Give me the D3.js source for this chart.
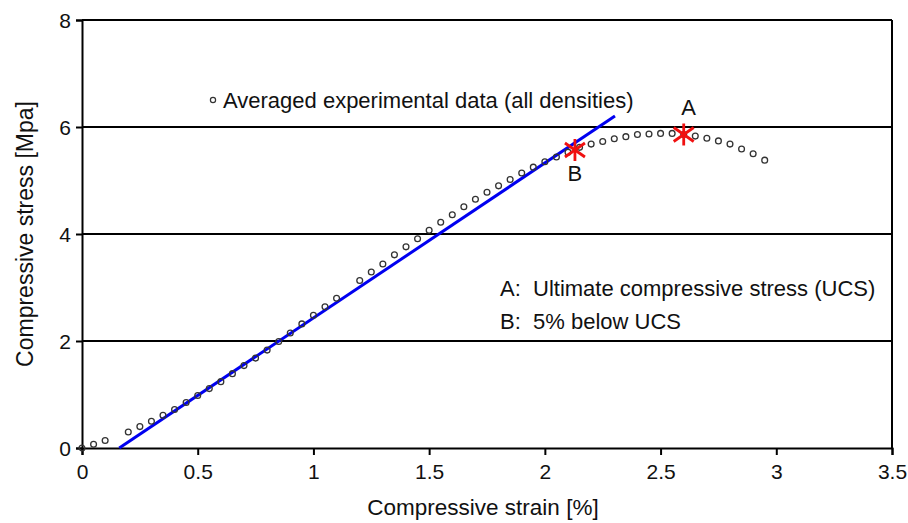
<!DOCTYPE html>
<html>
<head>
<meta charset="utf-8">
<script src="https://cdn.jsdelivr.net/npm/d3@7"></script>
<style>
  html, body { margin: 0; padding: 0; background: #fff; }
  text { font-family: "Liberation Sans", Arial, Helvetica, sans-serif; fill: #111; white-space: pre; }
</style>
</head>
<body>
<svg id="chart" width="908" height="523"></svg>
<script>
// ---- data ----
const strain = [0,0.05,0.1,0.2,0.25,0.3,0.35,0.4,0.45,0.5,0.55,0.6,0.65,0.7,0.75,0.8,0.85,0.9,0.95,1.0,1.05,1.1,
  1.2,1.25,1.3,1.35,1.4,1.45,1.5,1.55,1.6,1.65,1.7,1.75,1.8,1.85,1.9,1.95,2.0,2.05,2.1,2.15,2.2,2.25,2.3,2.35,2.4,2.45,2.5,2.55,2.6,2.65,2.7,2.75,2.8,2.85,2.9,2.95];
const stress = [0,0.07,0.14,0.30,0.40,0.50,0.61,0.72,0.85,0.98,1.11,1.24,1.39,1.54,1.68,1.83,1.99,2.15,2.32,2.48,2.64,2.80,
  3.13,3.29,3.44,3.61,3.76,3.91,4.07,4.22,4.36,4.51,4.65,4.78,4.90,5.02,5.14,5.25,5.35,5.44,5.53,5.62,5.68,5.73,5.78,5.82,5.86,5.87,5.88,5.88,5.86,5.83,5.79,5.74,5.68,5.59,5.50,5.38];
const fitStrain = [0.161, 2.303];
const fitStress = [0, 6.205];
const markerLabels = ["A", "B"];
const markerStrain = [2.60, 2.13];
const markerStress = [5.86, 5.57];
const xTicks = [0, 0.5, 1, 1.5, 2, 2.5, 3, 3.5];
const yTicks = [0, 2, 4, 6, 8];
const gridValues = [2, 4, 6, 8];
const legendText = "Averaged experimental data (all densities)";
const noteLines = ["A:  Ultimate compressive stress (UCS)", "B:  5% below UCS"];
const xTitle = "Compressive strain [%]";
const yTitle = "Compressive stress [Mpa]";

// ---- layout ----
const svg = d3.select("#chart");
const m = {left: 82, top: 20, right: 16, bottom: 75};
const W = 908 - m.left - m.right;
const H = 523 - m.top - m.bottom;
const x = d3.scaleLinear().domain([0, 3.5]).range([0, W]);
const y = d3.scaleLinear().domain([0, 8]).range([H, 0]);
const g = svg.append("g").attr("transform", `translate(${m.left},${m.top})`);

// gridlines
g.selectAll("line.grid").data(gridValues).join("line")
  .attr("x1", 0).attr("x2", W)
  .attr("y1", d => y(d)).attr("y2", d => y(d))
  .attr("stroke", "#000").attr("stroke-width", 2);
// right border
g.append("line").attr("x1", W).attr("x2", W).attr("y1", 0).attr("y2", H)
  .attr("stroke", "#000").attr("stroke-width", 2);

// axes
const xAxis = g.append("g").attr("transform", `translate(0,${H})`)
  .call(d3.axisBottom(x).tickValues(xTicks).tickSize(7).tickPadding(9).tickFormat(d3.format("")));
const yAxis = g.append("g")
  .call(d3.axisLeft(y).tickValues(yTicks).tickSize(6).tickPadding(5).tickFormat(d3.format("")));
[xAxis, yAxis].forEach(a => {
  a.select(".domain").attr("stroke", "#000").attr("stroke-width", 2);
  a.selectAll(".tick line").attr("stroke", "#000").attr("stroke-width", 2);
  a.selectAll(".tick text").style("font-size", "21px").attr("fill", "#111")
    .style("font-family", '"Liberation Sans", Arial, sans-serif');
});
yAxis.selectAll(".tick text").attr("dy", "0.36em");

// fit line
g.append("line")
  .attr("x1", x(fitStrain[0])).attr("y1", y(fitStress[0]))
  .attr("x2", x(fitStrain[1])).attr("y2", y(fitStress[1]))
  .attr("stroke", "#0000f0").attr("stroke-width", 3);

// data points
const pts = strain.map((s, i) => ({s, v: stress[i]}));
g.selectAll("circle.pt").data(pts).join("circle")
  .attr("cx", d => x(d.s)).attr("cy", d => y(d.v)).attr("r", 2.9)
  .attr("fill", "none").attr("stroke", "#333").attr("stroke-width", 1.3);

// markers
const marks = markerLabels.map((l, i) => ({l, s: markerStrain[i], v: markerStress[i]}));
const mg = g.selectAll("g.mark").data(marks).join("g")
  .attr("transform", d => `translate(${x(d.s)},${y(d.v)})`);
mg.append("line").attr("x1", 0).attr("x2", 0).attr("y1", -11).attr("y2", 11);
mg.append("line").attr("x1", -10).attr("x2", 10).attr("y1", -7).attr("y2", 7);
mg.append("line").attr("x1", -10).attr("x2", 10).attr("y1", 7).attr("y2", -7);
mg.selectAll("line").attr("stroke", "#f01010").attr("stroke-width", 2.8);
mg.append("text").text(d => d.l)
  .attr("x", d => d.l === "A" ? 5 : 0)
  .attr("y", d => d.l === "A" ? -19 : 31)
  .attr("text-anchor", "middle").style("font-size", "22px");

// legend
g.append("circle").attr("cx", 213 - m.left).attr("cy", 100 - m.top).attr("r", 2.6)
  .attr("fill", "none").attr("stroke", "#333").attr("stroke-width", 1.2);
g.append("text").attr("x", 223 - m.left).attr("y", 108 - m.top).text(legendText).style("font-size", "22px");

// notes
g.selectAll("text.note").data(noteLines).join("text")
  .attr("x", 500 - m.left).attr("y", (d, i) => 296 - m.top + i * 33)
  .text(d => d).style("font-size", "22px");

// axis titles
svg.append("text").attr("x", m.left + W / 2 - 4).attr("y", 515)
  .attr("text-anchor", "middle").style("font-size", "22.5px").text(xTitle);
svg.append("text").attr("transform", `translate(33,${m.top + H / 2}) rotate(-90)`)
  .attr("text-anchor", "middle").style("font-size", "23px").text(yTitle);
</script>
</body>
</html>
